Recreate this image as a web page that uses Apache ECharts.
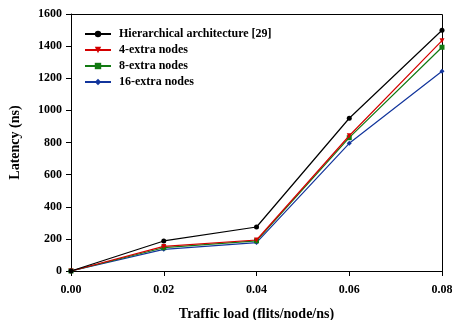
<!DOCTYPE html>
<html>
<head>
<meta charset="utf-8">
<script src="https://cdn.jsdelivr.net/npm/echarts@6/dist/echarts.min.js"></script>
<style>
  html, body { margin: 0; padding: 0; background: #fff; }
  #chart { width: 452px; height: 320px; }
</style>
</head>
<body>
<div id="chart"></div>
<script>
// Traffic load (flits/node/ns) on the x axis
const trafficLoad = [0.00, 0.02, 0.04, 0.06, 0.08];
// Average latency (ns) per configuration
const hierarchical = [0, 187, 274, 951, 1499];
const extra4 = [0, 153, 193, 842, 1434];
const extra8 = [0, 145, 188, 830, 1393];
const extra16 = [0, 135, 177, 795, 1243];

const seriesNames = ['Hierarchical architecture [29]', '4-extra nodes', '8-extra nodes', '16-extra nodes'];
const seriesColors = ['#000000', '#d40000', '#127a12', '#12359c'];
const seriesSymbols = ['circle', 'triangle', 'rect', 'diamond'];
const seriesData = [hierarchical, extra4, extra8, extra16];

const font = 'Liberation Serif, Times New Roman, serif';

const chart = echarts.init(document.getElementById('chart'));
chart.setOption({
  animation: false,
  textStyle: { fontFamily: font },
  grid: { left: 71, top: 14, right: 10, bottom: 49, outerBoundsMode: 'none', containLabel: false },
  legend: {
    orient: 'vertical',
    left: 79,
    top: 23,
    itemWidth: 26,
    itemHeight: 8,
    itemGap: 4,
    textStyle: { fontFamily: font, fontWeight: 'bold', fontSize: 12, color: '#000', padding: [0, 0, 0, 3] },
    data: seriesNames
  },
  xAxis: {
    type: 'value',
    min: 0,
    max: 0.08,
    interval: 0.02,
    name: 'Traffic load (flits/node/ns)',
    nameLocation: 'middle',
    nameGap: 36,
    nameTextStyle: { fontFamily: font, fontWeight: 'bold', fontSize: 14, color: '#000' },
    axisLine: { lineStyle: { color: '#000', width: 1 } },
    axisTick: { show: true, inside: false, length: 5, lineStyle: { color: '#000' } },
    axisLabel: {
      fontFamily: font, fontWeight: 'bold', fontSize: 12, color: '#000', margin: 13,
      formatter: v => v.toFixed(2)
    },
    splitLine: { show: false }
  },
  yAxis: {
    type: 'value',
    min: 0,
    max: 1600,
    interval: 200,
    name: 'Latency (ns)',
    nameLocation: 'middle',
    nameGap: 49,
    nameTextStyle: { fontFamily: font, fontWeight: 'bold', fontSize: 14, color: '#000' },
    axisLine: { show: true, lineStyle: { color: '#000', width: 1 } },
    axisTick: { show: true, inside: false, length: 5, lineStyle: { color: '#000' } },
    axisLabel: {
      fontFamily: font, fontWeight: 'bold', fontSize: 12, color: '#000', margin: 9,
      formatter: v => String(v)
    },
    splitLine: { show: false }
  },
  graphic: [],
  series: seriesNames.map((name, i) => ({
    name: name,
    type: 'line',
    data: trafficLoad.map((x, j) => [x, seriesData[i][j]]),
    symbol: seriesSymbols[i],
    symbolRotate: seriesSymbols[i] === 'triangle' ? 180 : 0,
    symbolSize: 5,
    showSymbol: true,
    lineStyle: { color: seriesColors[i], width: 1.2 },
    itemStyle: { color: seriesColors[i] },
    z: 10 - i
  }))
});

// Frame: top and right border of the plotting area
const rect = chart.getModel().getComponent('grid').coordinateSystem.getRect();
chart.setOption({
  graphic: [{
    type: 'polyline',
    shape: { points: [[rect.x, rect.y + 0.5], [rect.x + rect.width + 0.5, rect.y + 0.5], [rect.x + rect.width + 0.5, rect.y + rect.height]] },
    style: { stroke: '#000', lineWidth: 1, fill: null },
    z: 5
  }, {
    type: 'line',
    shape: { x1: rect.x + rect.width + 0.5, y1: rect.y + rect.height, x2: rect.x + rect.width + 0.5, y2: rect.y + rect.height + 5 },
    style: { stroke: '#000', lineWidth: 1 }
  }]
});
</script>
</body>
</html>
